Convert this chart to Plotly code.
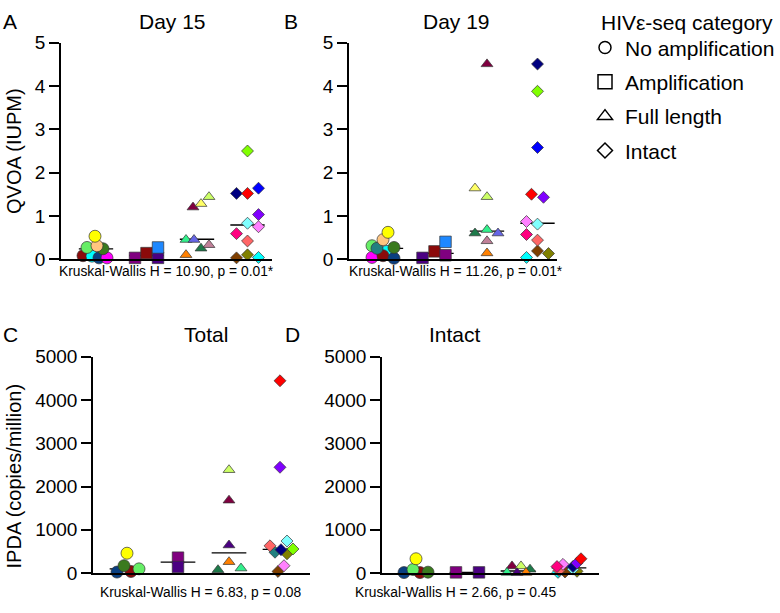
import plotly.graph_objects as go

W, H = 780, 613
FONT = "Liberation Sans, Arial, sans-serif"

COL = dict(
    yellow="#FFFF00", peach="#FFC580", lgreen="#66EE66", dolive="#3A7A1E", dred="#8B0A0A",
    cyan="#00FFFF", dblue="#0A3F80", magenta="#FF00FF", teal="#218080",
    purple="#800080", indigo="#4B0082", dodger="#1E88FF",
    orange="#FF8000", sgreen="#33F08C", slate="#6666E6", sea="#1E7A4A", mauve="#C08098",
    maroon="#800040", lyellow="#FFFF66", ygreen="#CCFF66",
    lime="#80FF00", navy="#000080", red="#FF0000", blue="#0000FF", violet="#8000FF",
    lcyan="#80FFFF", orchid="#FF80FF", dpink="#FF0080", salmon="#FF6666", brown="#7F3F00",
    olive="#808000",
)

categories = ["No amplification", "Amplification", "Full length", "Intact"]
symbols = ["circle", "square", "triangle-up", "diamond"]
sizes = [12, 11.5, 10.3, 9.2]

# ---------------- Panel A : QVOA day 15 ----------------
A_colors = [
    ["dred", "cyan", "dblue", "magenta", "lgreen", "dolive", "peach", "yellow"],
    ["purple", "dred", "indigo", "dodger"],
    ["orange", "sgreen", "slate", "sea", "mauve", "maroon", "lyellow", "ygreen"],
    ["lime", "navy", "red", "blue", "violet", "lcyan", "orchid", "dpink", "salmon", "brown", "olive", "cyan"],
]
A_values = [
    [0.08, 0.07, 0.03, 0.03, 0.27, 0.24, 0.31, 0.53],
    [0.03, 0.14, 0.03, 0.27],
    [0.10, 0.45, 0.45, 0.25, 0.33, 1.20, 1.28, 1.44],
    [2.50, 1.52, 1.52, 1.64, 1.03, 0.83, 0.75, 0.59, 0.42, 0.03, 0.10, 0.04],
]
A_jitter = [
    [-13, -4, 3, 11, -9, 7, 1, -1],
    [-11.5, 0, 11.5, 11.5],
    [-11, -11, -3, 4, 12, -4, 4, 12],
    [0, -11, 0, 11, 11, 0, 11, -11, 0, -11, 0, 11],
]
A_medians = [0.24, 0.085, 0.46, 0.79]

# ---------------- Panel B : QVOA day 19 ----------------
B_colors = [
    ["cyan", "magenta", "dred", "dblue", "lgreen", "teal", "dolive", "peach", "yellow"],
    ["indigo", "dred", "purple", "dodger"],
    ["orange", "mauve", "sea", "sgreen", "slate", "ygreen", "lyellow", "maroon"],
    ["cyan", "brown", "olive", "salmon", "dpink", "lcyan", "orchid", "red", "violet", "blue", "lime", "navy"],
]
B_values = [
    [0.18, 0.04, 0.08, 0.02, 0.31, 0.25, 0.27, 0.45, 0.62],
    [0.03, 0.18, 0.09, 0.40],
    [0.14, 0.42, 0.60, 0.68, 0.60, 1.44, 1.64, 4.51],
    [0.04, 0.19, 0.13, 0.44, 0.57, 0.81, 0.87, 1.50, 1.43, 2.58, 3.88, 4.51],
]
B_jitter = [
    [1, -14, -3, 8, -14, -9, 8, -3, 2],
    [-14, -2, 9, 9],
    [0, 0, -12, 0, 11, 0, -12, 0],
    [-11, 0, 11, 0, -11, 0, -11, -6, 6, 0, 0, 0],
]
B_medians = [0.25, 0.135, 0.65, 0.83]

# ---------------- Panel C : IPDA total ----------------
C_colors = [
    ["dblue", "dred", "lgreen", "dolive", "yellow"],
    ["purple", "indigo"],
    ["sea", "sgreen", "orange", "indigo", "maroon", "ygreen"],
    ["brown", "orchid", "olive", "teal", "navy", "lime", "salmon", "lcyan", "violet", "red"],
]
C_values = [
    [22, 36, 96, 169, 458],
    [355, 140],
    [73, 111, 258, 644, 1680, 2384],
    [36, 169, 444, 480, 540, 556, 629, 740, 2444, 4444],
]
C_jitter = [
    [-10, 4, 12, -3, 0],
    [0, 0],
    [-11, 12, 0, 0, 0, 0],
    [-2, 4, 7, -5, 1, 13, -10, 7, 0, 0],
]
C_medians = [96, 250, 467, 548]

# ---------------- Panel D : IPDA intact ----------------
D_colors = [
    ["dblue", "dred", "dolive", "lgreen", "yellow"],
    ["purple", "indigo"],
    ["maroon", "ygreen", "sea", "indigo", "sgreen", "orange"],
    ["cyan", "brown", "olive", "salmon", "lcyan", "orchid", "dpink", "navy", "violet", "red"],
]
D_values = [
    [10, 10, 20, 80, 330],
    [15, 15],
    [160, 160, 85, 5, 10, 10],
    [15, 25, 40, 60, 90, 200, 150, 150, 230, 330],
]
D_jitter = [
    [-12, 4, 12, -3, 0],
    [-11, 12],
    [-6, 3, 12, -1, -11, 8],
    [-11, -4, 8, -10, 4, -6, -12, 4, 8, 12],
]
D_medians = [20, 15, 47, 120]

panels = [
    dict(c=A_colors, v=A_values, j=A_jitter, m=A_medians, xs=(61, 272), ys=(258, 34), c0=96, sp=50.5,
         ymax=5, dtick=1, kw="Kruskal-Wallis H = 10.90, p = 0.01*", kwx=166, kwy=271),
    dict(c=B_colors, v=B_values, j=B_jitter, m=B_medians, xs=(349, 557), ys=(258, 34), c0=386, sp=50.5,
         ymax=5, dtick=1, kw="Kruskal-Wallis H = 11.26, p = 0.01*", kwx=456, kwy=271),
    dict(c=C_colors, v=C_values, j=C_jitter, m=C_medians, xs=(93, 310), ys=(583, 359), c0=127, sp=51,
         ymax=5000, dtick=1000, kw="Kruskal-Wallis H = 6.83, p = 0.08", kwx=201, kwy=603),
    dict(c=D_colors, v=D_values, j=D_jitter, m=D_medians, xs=(382, 599), ys=(583, 359), c0=416, sp=51,
         ymax=5000, dtick=1000, kw="Kruskal-Wallis H = 2.66, p = 0.45", kwx=455, kwy=603),
]

fig = go.Figure()
layout = dict(
    width=W, height=H, margin=dict(l=0, r=0, t=0, b=0),
    paper_bgcolor="white", plot_bgcolor="white",
    font=dict(family=FONT, color="black"),
    showlegend=True,
)
annotations = []

for k, p in enumerate(panels):
    n = k + 1
    xa = "x" if n == 1 else f"x{n}"
    ya = "y" if n == 1 else f"y{n}"
    x0, x1 = p["xs"]
    yz, yt = p["ys"]
    layout["xaxis" if n == 1 else f"xaxis{n}"] = dict(
        domain=[x0 / W, x1 / W],
        range=[(x0 - p["c0"]) / p["sp"], (x1 - p["c0"]) / p["sp"]],
        anchor=ya, showline=True, linecolor="black", linewidth=1.5,
        showticklabels=False, ticks="", showgrid=False, zeroline=False,
    )
    layout["yaxis" if n == 1 else f"yaxis{n}"] = dict(
        domain=[1 - yz / H, 1 - yt / H],
        range=[0, p["ymax"]], dtick=p["dtick"], tick0=0,
        anchor=xa, showline=True, linecolor="black", linewidth=1.5,
        ticks="outside", ticklen=10, tickwidth=1.5, tickcolor="black",
        tickfont=dict(size=19, family=FONT, color="black"),
        showgrid=False, zeroline=False, ticklabelstandoff=0,
    )
    mx, my = [], []
    for g, med in enumerate(p["m"]):
        mx += [g - 0.34, g + 0.34, None]
        my += [med, med, None]
    fig.add_trace(go.Scatter(x=mx, y=my, mode="lines", line=dict(color="black", width=1.3),
                             xaxis=xa, yaxis=ya, showlegend=False, hoverinfo="skip",
                             cliponaxis=False))
    for g in range(4):
        xs = [g + jj / p["sp"] for jj in p["j"][g]]
        fig.add_trace(go.Scatter(
            x=xs, y=p["v"][g], mode="markers", xaxis=xa, yaxis=ya, showlegend=False,
            cliponaxis=False,
            marker=dict(symbol=symbols[g], size=sizes[g], color=[COL[c] for c in p["c"][g]],
                        line=dict(color="#333333", width=0.7)),
        ))
    annotations.append(dict(text=p["kw"], x=p["kwx"] / W, y=1 - p["kwy"] / H, xref="paper", yref="paper",
                            showarrow=False, xanchor="center", yanchor="middle",
                            font=dict(size=13.8, family=FONT, color="black")))

leg_sizes = [12, 14, 13, 11.5]
for g in range(4):
    fig.add_trace(go.Scatter(x=[None], y=[None], mode="markers", name=categories[g],
                             legendgroup=categories[g],
                             marker=dict(symbol=symbols[g] + "-open", size=leg_sizes[g], color="black",
                                         line=dict(color="black", width=1.5))))

layout["legend"] = dict(
    x=585 / W, y=1 - 18 / H, xanchor="left", yanchor="top",
    font=dict(size=21, family=FONT, color="black"),
    bgcolor="rgba(0,0,0,0)", tracegroupgap=4, itemsizing="trace",
)


def txt(s, x, y, size=21, xanchor="center", angle=0):
    annotations.append(dict(text=s, x=x / W, y=1 - y / H, xref="paper", yref="paper", showarrow=False,
                            xanchor=xanchor, yanchor="middle", textangle=angle,
                            font=dict(size=size, family=FONT, color="black")))


txt("A", 1, 12, xanchor="left")
txt("Day 15", 172, 12)
txt("B", 282, 12, xanchor="left")
txt("Day 19", 456, 12)
txt("C", 1, 336, xanchor="left")
txt("Total", 206, 336)
txt("D", 283, 336, xanchor="left")
txt("Intact", 455, 336)
txt("HIVε-seq category", 599, 13, xanchor="left")
txt("QVOA (IUPM)", 14, 146, size=20, angle=-90)
txt("IPDA (copies/million)", 14, 483, size=20, angle=-90)

layout["annotations"] = annotations
fig.update_layout(**layout)
fig.write_html("out.html", config={"displayModeBar": False},
               post_script="document.body.style.margin='0';document.body.style.overflow='hidden';")
